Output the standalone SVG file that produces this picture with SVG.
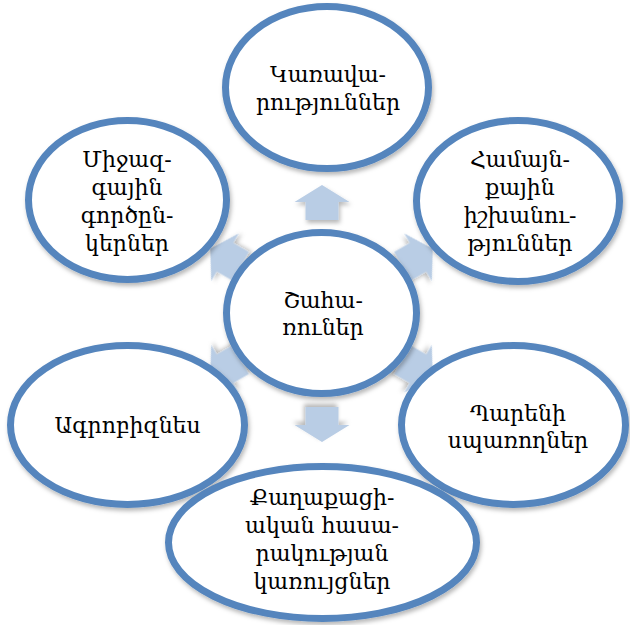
<svg xmlns="http://www.w3.org/2000/svg" width="630" height="625" viewBox="0 0 630 625">
  <defs>
    <filter id="sh" x="-20%" y="-20%" width="140%" height="150%">
      <feDropShadow dx="1.5" dy="3" stdDeviation="2" flood-color="#000" flood-opacity="0.28"/>
    </filter>
    <path id="arr" d="M0,-17.5 L27.5,-0.5 L16.5,-0.5 L16.5,17.5 L-16.5,17.5 L-16.5,-0.5 L-27.5,-0.5 Z"/>
  </defs>
  <style>
    .node ellipse { fill: #ffffff; stroke: #5585bd; stroke-width: 7; filter: url(#sh); }
    .node text { font-family: "DejaVu Serif", "Liberation Serif", serif; font-size: 22px; fill: #000; text-anchor: middle; }
    .arrow { fill: #b9cde5; filter: url(#sh); }
  </style>
  <rect width="630" height="625" fill="#ffffff"/>
  <g id="connectors">
    <use href="#arr" class="arrow" transform="translate(322,202.5)"/>
    <use href="#arr" class="arrow" transform="translate(322,424.5) rotate(180)"/>
    <use href="#arr" class="arrow" transform="translate(225.4,257.5) rotate(-60)"/>
    <use href="#arr" class="arrow" transform="translate(417.6,257.5) rotate(60)"/>
    <use href="#arr" class="arrow" transform="translate(225.4,368.5) rotate(-120)"/>
    <use href="#arr" class="arrow" transform="translate(417.6,368.5) rotate(120)"/>
  </g>
  <g id="node-top" class="node">
    <ellipse cx="327" cy="87.5" rx="101.5" ry="81"/>
    <text x="328" y="82">Կառավա-</text>
    <text x="328" y="110">րություններ</text>
  </g>
  <g id="node-top-left" class="node">
    <ellipse cx="127.5" cy="200" rx="99" ry="79.5"/>
    <text x="127" y="167">Միջազ-</text>
    <text x="127" y="195">գային</text>
    <text x="127" y="223">գործըն-</text>
    <text x="127" y="251">կերներ</text>
  </g>
  <g id="node-top-right" class="node">
    <ellipse cx="518" cy="201" rx="101.5" ry="80.5"/>
    <text x="520" y="167">Համայն-</text>
    <text x="520" y="195">քային</text>
    <text x="520" y="223">իշխանու-</text>
    <text x="520" y="251">թյուններ</text>
  </g>
  <g id="node-bottom-left" class="node">
    <ellipse cx="127.5" cy="425" rx="117" ry="79.5"/>
    <text x="127.5" y="433">Ագրոբիզնես</text>
  </g>
  <g id="node-bottom-right" class="node">
    <ellipse cx="513.5" cy="425" rx="112" ry="79.5"/>
    <text x="518" y="421">Պարենի</text>
    <text x="518" y="448">սպառողներ</text>
  </g>
  <g id="node-center" class="node">
    <ellipse cx="321.5" cy="313" rx="95" ry="80.5"/>
    <text x="323" y="308">Շահա-</text>
    <text x="323" y="335">ռուներ</text>
  </g>
  <g id="node-bottom" class="node">
    <ellipse cx="322.5" cy="542.5" rx="154" ry="76"/>
    <text x="322" y="505">Քաղաքացի-</text>
    <text x="322" y="533">ական հասա-</text>
    <text x="322" y="561">րակության</text>
    <text x="322" y="589">կառույցներ</text>
  </g>
</svg>
